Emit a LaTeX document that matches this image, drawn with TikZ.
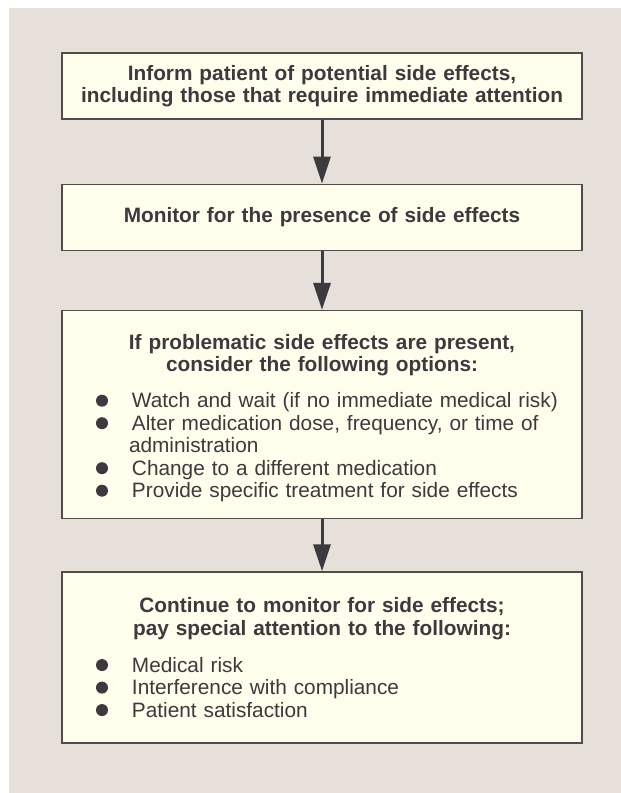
\documentclass[tikz,border=0pt]{standalone}
\usepackage{fontspec}
\setmainfont{Liberation Sans}
\usetikzlibrary{arrows.meta,positioning}

\definecolor{bgbeige}{HTML}{E7DFD9}
\definecolor{boxfill}{HTML}{FFFDEB}
\definecolor{boxline}{HTML}{4F4C4A}
\definecolor{textgray}{HTML}{3B3A3F}

% one bullet line, and the wrapped rest of a bullet line
\newcommand{\opt}[1]{\par\noindent\makebox[70pt][l]{\hspace*{34pt}\tikz[baseline=0pt]\fill[textgray] (0pt,7pt) circle (6pt);}#1}
\newcommand{\optcont}[1]{\par\noindent\hspace*{67pt}#1}

\begin{document}
\begin{tikzpicture}[x=1pt,y=1pt,-{Triangle[length=27pt,width=17pt]},
                    line width=3pt,draw=textgray,color=textgray]
  \tikzstyle{box}=[draw=boxline,fill=boxfill,line width=1.3pt,text=textgray,
                   minimum width=520pt,text width=520pt,inner xsep=0pt,inner ysep=0pt,
                   font=\fontsize{20.8}{22.5}\selectfont]

  \useasboundingbox (0,0) rectangle (621,-793);
  \fill[bgbeige] (9,-8) rectangle (623,-795);

  \node[box,minimum height=66pt,align=center,font=\fontsize{20.8}{22.5}\selectfont\bfseries]
    (inform) at (322,-86)
    {Inform patient of potential side effects,\\including those that require immediate attention};
  \node[box,minimum height=66pt,align=center,font=\fontsize{20.8}{22.5}\selectfont\bfseries]
    (monitor) [below=64pt of inform]
    {Monitor for the presence of side effects};
  \node[box,minimum height=208pt,align=left] (options) [below=59pt of monitor]
    {{\centering\bfseries\rule{0pt}{22pt}If problematic side effects are present,\\consider the following options:\par}
     \vspace{13.5pt}
     \opt{Watch and wait (if no immediate medical risk)}
     \opt{Alter medication dose, frequency, or time of}
     \optcont{administration}
     \opt{Change to a different medication}
     \opt{Provide specific treatment for side effects}};
  \node[box,minimum height=171pt,align=left] (continue) [below=52pt of options]
    {{\centering\bfseries Continue to monitor for side effects;\\pay special attention to the following:\par}
     \vspace{14.5pt}
     \opt{Medical risk}
     \opt{Interference with compliance}
     \opt{Patient satisfaction}};

  \path (inform)  edge (monitor)
        (monitor) edge (options)
        (options) edge (continue);
\end{tikzpicture}
\end{document}
